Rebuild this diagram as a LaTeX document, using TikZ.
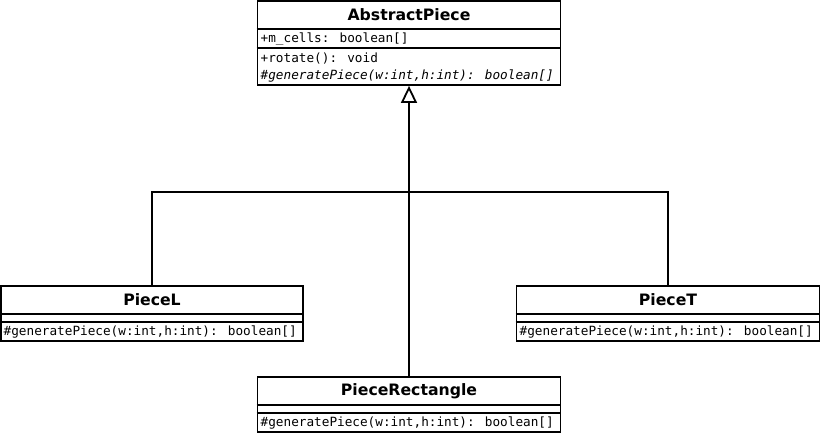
\documentclass[tikz,border=0pt]{standalone}
\usepackage{fontspec}
\setmainfont{DejaVu Sans}
\newfontfamily\monof{DejaVu Sans Mono}
\usetikzlibrary{arrows.meta}
\begin{document}
\begin{tikzpicture}[x=1pt,y=-1pt,
  box/.style={draw, line width=1.8pt, inner sep=0pt, fill=white},
  ttl/.style={font=\fontsize{15.7}{18}\selectfont\bfseries, inner sep=0pt},
  mem/.style={font=\monof\fontsize{12.7}{15}\selectfont, anchor=west, inner sep=0pt},
  memi/.style={font=\monof\itshape\fontsize{12.7}{15}\selectfont, anchor=west, inner sep=0pt},
  divl/.style={line width=1.8pt},
  conn/.style={line width=2pt},
]
\useasboundingbox[fill=white] (0,0) rectangle (822,435);

% AbstractPiece
\node[box, minimum width=303pt, minimum height=84pt] (AP) at (409,43) {};
\draw[divl] (AP.west |- 0,29) -- (AP.east |- 0,29);
\draw[divl] (AP.west |- 0,48) -- (AP.east |- 0,48);
\node[ttl] (APt) at (409,15) {AbstractPiece};
\node[mem] (APa) at (260.5,39.5) {+m\_cells: boolean[]};
\node[mem] (APo1) at (260.5,59) {+rotate(): void};
\node[memi] (APo2) at (260.5,76) {\#generatePiece(w:int,h:int): boolean[]};

% PieceL
\node[box, minimum width=302pt, minimum height=55pt] (PL) at (152,313.5) {};
\draw[divl] (PL.west |- 0,314) -- (PL.east |- 0,314);
\draw[divl] (PL.west |- 0,322) -- (PL.east |- 0,322);
\node[ttl] (PLt) at (152,300) {PieceL};
\node[mem] (PLo) at (3.5,332) {\#generatePiece(w:int,h:int): boolean[]};

% PieceT
\node[box, minimum width=303pt, minimum height=55pt] (PT) at (668,313.5) {};
\draw[divl] (PT.west |- 0,314) -- (PT.east |- 0,314);
\draw[divl] (PT.west |- 0,322) -- (PT.east |- 0,322);
\node[ttl] (PTt) at (668,300) {PieceT};
\node[mem] (PTo) at (519.5,332) {\#generatePiece(w:int,h:int): boolean[]};

% PieceRectangle
\node[box, minimum width=303pt, minimum height=55pt] (PR) at (409,404.5) {};
\draw[divl] (PR.west |- 0,405) -- (PR.east |- 0,405);
\draw[divl] (PR.west |- 0,413) -- (PR.east |- 0,413);
\node[ttl] (PRt) at (409,391) {PieceRectangle};
\node[mem] (PRo) at (260.5,423) {\#generatePiece(w:int,h:int): boolean[]};

% connectors
\coordinate (J) at (409,192);
\draw[conn] (PL.north) |- (J);
\draw[conn] (PT.north) |- (J);
\draw[conn, -{Triangle[open, width=16pt, length=17pt, line width=1.8pt]}] (PR.north) -- (AP.south);
\end{tikzpicture}
\end{document}
